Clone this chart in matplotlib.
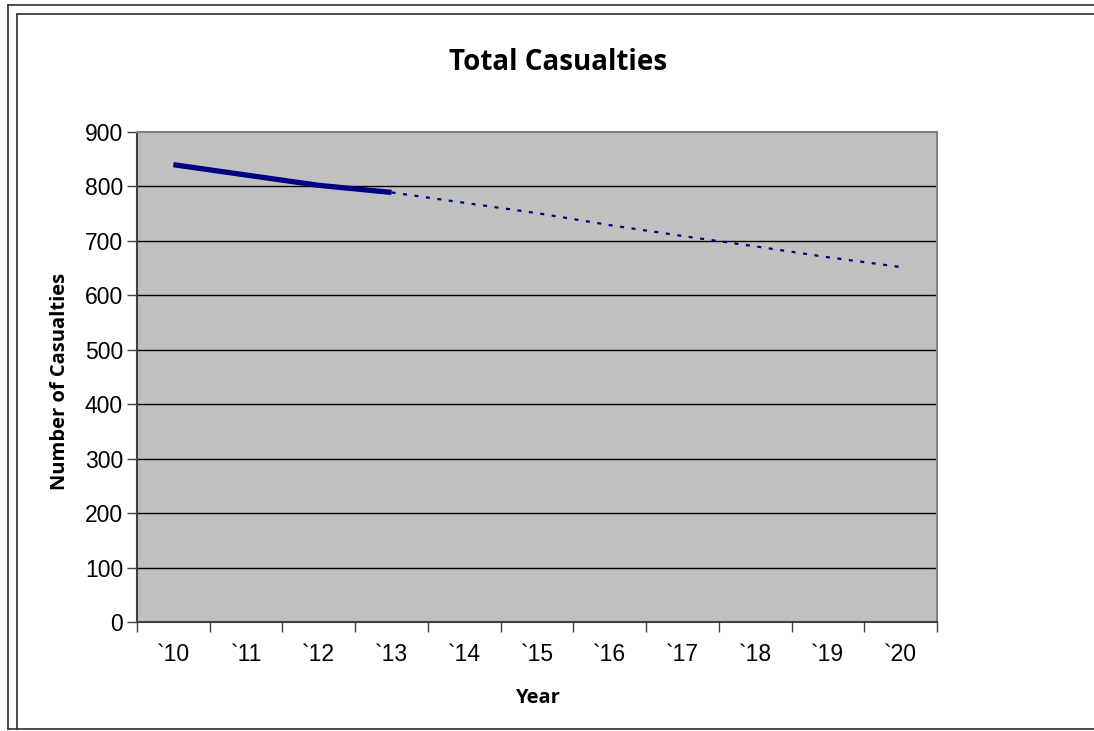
import matplotlib.pyplot as plt
from matplotlib.lines import Line2D

# casualties per year, actual figures then the projection
years = ["`10", "`11", "`12", "`13", "`14", "`15", "`16", "`17", "`18", "`19", "`20"]
actual = [840, 821, 802, 789]
projected = [789, 770, 751, 729, 709, 690, 670, 652]

fig = plt.figure(figsize=(10.94, 7.31), dpi=100)
ax = fig.add_axes([137 / 1094, 1 - 622 / 731, 800 / 1094, 490 / 731])

x_act = list(range(len(actual)))
x_proj = list(range(len(actual) - 1, len(years)))

ax.set_facecolor("#c0c0c0")
for v in range(100, 900, 100):
    ax.axhline(v, color="black", lw=1.0, zorder=1)

ax.plot(x_act, actual, color="#000080", lw=3.8, solid_capstyle="butt", zorder=3)
ax.plot(x_proj, projected, color="#000080", lw=1.6, linestyle=(0, (1.8, 3.4)), zorder=3)

ax.set_xlim(-0.5, len(years) - 0.5)
ax.set_ylim(0, 900)
ax.set_yticks(range(0, 1000, 100))
ax.set_xticks(range(len(years)))
ax.set_xticklabels(years)
ax.set_xticks([i - 0.5 for i in range(len(years) + 1)], minor=True)
ax.tick_params(axis="x", which="major", length=0, pad=15, labelsize=16.5)
ax.tick_params(axis="x", which="minor", length=7, width=1, color="#404040", direction="out")
ax.tick_params(axis="y", length=7, width=1, color="#404040", direction="out", pad=3, labelsize=16.5)
for lab in ax.get_xticklabels() + ax.get_yticklabels():
    lab.set_fontfamily("Liberation Sans")

for side in ["top", "right"]:
    ax.spines[side].set_color("#808080")
    ax.spines[side].set_linewidth(1.5)
for side in ["left", "bottom"]:
    ax.spines[side].set_color("#404040")
    ax.spines[side].set_linewidth(1.5)

fig.text(558 / 1094, 1 - 62 / 731, "Total Casualties", ha="center", va="center",
         fontsize=20, fontweight="bold", family="Open Sans")
fig.text(60 / 1094, 1 - 381 / 731, "Number of Casualties", ha="center", va="center",
         rotation=90, fontsize=14.5, fontweight="bold", family="Open Sans")
fig.text(537 / 1094, 1 - 698 / 731, "Year", ha="center", va="center",
         fontsize=14.5, fontweight="bold", family="Open Sans")

# chart frame lines
frame = dict(color="#303030", lw=1.2, transform=None)
W, H = 1094, 731
for xs, ys in [([8, 8], [5, 729]), ([17, 17], [14, 729]), ([8, W], [5, 5]),
               ([17, W], [14, 14]), ([8, W], [729, 729])]:
    fig.add_artist(Line2D(xs, [H - y for y in ys], **frame))

fig.savefig("out.png", dpi=100)
